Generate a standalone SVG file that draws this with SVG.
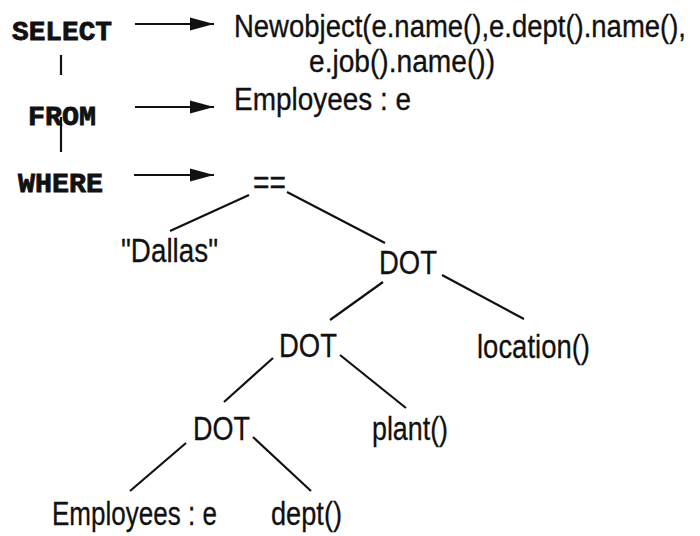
<svg xmlns="http://www.w3.org/2000/svg" width="700" height="536" viewBox="0 0 700 536">
  <style>
    .kw { font-family: "Liberation Mono", "DejaVu Sans Mono", monospace; font-weight: bold; font-size: 27px; fill: #111; stroke: #111; stroke-width: 0.8; }
    .top { font-family: "Liberation Sans", Arial, sans-serif; font-size: 28px; fill: #111; stroke: #111; stroke-width: 0.3; }
    .lbl { font-family: "Liberation Sans", Arial, sans-serif; font-size: 34px; fill: #111; stroke: #111; stroke-width: 0.3; }
    .edge { stroke: #111; stroke-width: 2.2; fill: none; stroke-linecap: butt; }
  </style>
  <defs>
    <marker id="head" markerUnits="userSpaceOnUse" markerWidth="24" markerHeight="14" refX="24" refY="7" orient="auto">
      <path d="M0,0.5 L24,7 L0,13.5 z" fill="#111"/>
    </marker>
  </defs>
  <rect width="700" height="536" fill="#fff"/>

  <!-- query clause keywords -->
  <g id="kw-select"><text class="kw" x="12" y="40" textLength="100" lengthAdjust="spacingAndGlyphs">SELECT</text></g>
  <g id="kw-from"><text class="kw" x="28" y="125" textLength="68" lengthAdjust="spacingAndGlyphs">FROM</text></g>
  <g id="kw-where"><text class="kw" x="18" y="192" textLength="85" lengthAdjust="spacingAndGlyphs">WHERE</text></g>

  <!-- clause contents (slightly tall, narrow lettering) -->
  <g id="select-expr">
    <g transform="translate(234,37) scale(1,1.1)">
      <text class="top" x="0" y="0" textLength="452" lengthAdjust="spacingAndGlyphs">Newobject(e.name(),e.dept().name(),</text>
    </g>
    <g transform="translate(309,72) scale(1,1.1)">
      <text class="top" x="0" y="0" textLength="186" lengthAdjust="spacingAndGlyphs">e.job().name())</text>
    </g>
  </g>
  <g id="from-expr">
    <g transform="translate(234,110) scale(1,1.1)">
      <text class="top" x="0" y="0" textLength="177" lengthAdjust="spacingAndGlyphs">Employees : e</text>
    </g>
  </g>

  <!-- predicate tree -->
  <g id="eq"><text class="lbl" x="253" y="194" textLength="33" lengthAdjust="spacingAndGlyphs">==</text></g>
  <g id="dallas"><text class="lbl" x="121" y="262" textLength="97" lengthAdjust="spacingAndGlyphs">"Dallas"</text></g>
  <g id="dot1"><text class="lbl" x="379" y="274" textLength="58" lengthAdjust="spacingAndGlyphs">DOT</text></g>
  <g id="location"><text class="lbl" x="477" y="358" textLength="113" lengthAdjust="spacingAndGlyphs">location()</text></g>
  <g id="dot2"><text class="lbl" x="279" y="357" textLength="58" lengthAdjust="spacingAndGlyphs">DOT</text></g>
  <g id="plant"><text class="lbl" x="372" y="440" textLength="76" lengthAdjust="spacingAndGlyphs">plant()</text></g>
  <g id="dot3"><text class="lbl" x="193" y="440" textLength="57" lengthAdjust="spacingAndGlyphs">DOT</text></g>
  <g id="employees"><text class="lbl" x="52" y="525" textLength="165" lengthAdjust="spacingAndGlyphs">Employees : e</text></g>
  <g id="dept"><text class="lbl" x="271" y="525" textLength="71" lengthAdjust="spacingAndGlyphs">dept()</text></g>

  <g id="connectors">
    <!-- clause chain -->
    <line class="edge" x1="61" y1="55" x2="61" y2="75"/>
    <line class="edge" x1="61" y1="117" x2="61" y2="152"/>
    <!-- clause arrows -->
    <line class="edge" x1="135" y1="24" x2="214" y2="24" marker-end="url(#head)"/>
    <line class="edge" x1="135" y1="107" x2="214" y2="107" marker-end="url(#head)"/>
    <line class="edge" x1="134" y1="175" x2="214" y2="175" marker-end="url(#head)"/>
    <!-- tree edges -->
    <line class="edge" x1="249" y1="195" x2="170" y2="231"/>
    <line class="edge" x1="287" y1="192" x2="385" y2="243"/>
    <line class="edge" x1="383" y1="282" x2="330" y2="320"/>
    <line class="edge" x1="442" y1="275" x2="524" y2="319"/>
    <line class="edge" x1="273" y1="358" x2="224" y2="402"/>
    <line class="edge" x1="340" y1="355" x2="406" y2="408"/>
    <line class="edge" x1="186" y1="443" x2="130" y2="491"/>
    <line class="edge" x1="253" y1="437" x2="311" y2="491"/>
  </g>
</svg>
